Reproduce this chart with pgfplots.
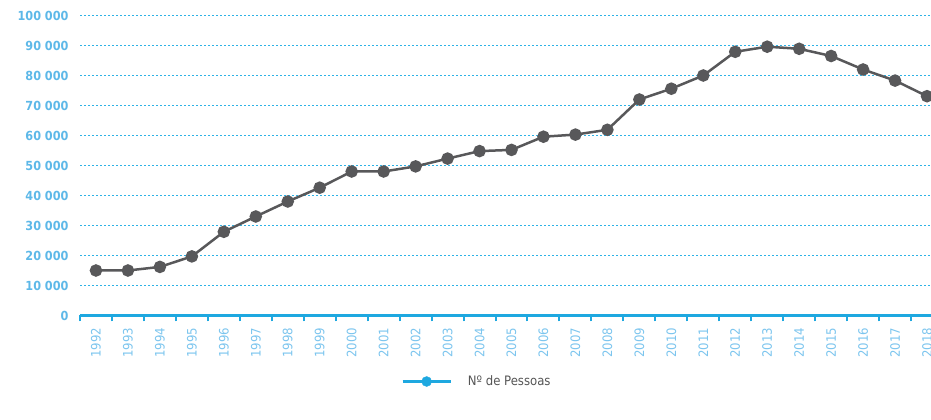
\documentclass[border=0pt]{standalone}
\usepackage{pgfplots}
\pgfplotsset{compat=1.18}
\usepackage{fontspec}
\setmainfont{DejaVu Sans Condensed}
\definecolor{gridblue}{HTML}{2DB2E6}
\definecolor{axisblue}{HTML}{1EA8E0}
\definecolor{ylblblue}{HTML}{5DB8E8}
\definecolor{lblblue}{HTML}{7CC5EE}
\definecolor{linegray}{HTML}{58585A}
\definecolor{txtgray}{HTML}{555555}
\pgfplotstableread{
x y
0 15000
1 15000
2 16200
3 19700
4 27900
5 33000
6 38000
7 42600
8 48000
9 48000
10 49700
11 52300
12 54800
13 55200
14 59600
15 60300
16 61900
17 72000
18 75600
19 80000
20 87900
21 89600
22 88900
23 86500
24 82000
25 78300
26 73100
}\datatable
\begin{document}
\begin{tikzpicture}
\begin{scope}
\clip (0pt,0pt) rectangle (931pt,420pt);
\begin{axis}[
  at={(80pt,104.5pt)}, anchor=south west,
  scale only axis, width=863pt, height=300pt,
  xmin=-0.5, xmax=26.5, ymin=0, ymax=100000,
  scaled y ticks=false,
  axis x line*=bottom, axis y line*=left,
  x axis line style={axisblue, line width=2.5pt},
  y axis line style={draw=none},
  ymajorgrids,
  major grid style={draw=gridblue, dash pattern=on 2pt off 2pt, line width=1pt},
  ytick={0,10000,...,100000},
  yticklabels={0,10 000,20 000,30 000,40 000,50 000,60 000,70 000,80 000,90 000,100 000},
  ytick style={draw=none},
  xtick={0,...,26},
  xticklabels={1992,1993,1994,1995,1996,1997,1998,1999,2000,2001,2002,2003,2004,2005,2006,2007,2008,2009,2010,2011,2012,2013,2014,2015,2016,2017,2018},
  major tick length=0pt,
  minor xtick={-0.5,0.5,...,26.5},
  minor tick length=6pt,
  tick align=outside,
  minor x tick style={axisblue, line width=2pt},
  major x tick style={draw=none},
  xticklabel style={rotate=90, anchor=east, font=\fontsize{13}{15}\selectfont, text=lblblue, xshift=-9pt},
  yticklabel style={font=\bfseries\fontsize{12.5}{15}\selectfont, text=ylblblue, xshift=-8pt},
  legend style={at={(0.46,-0.22)}, anchor=center, draw=none, fill=none,
    font=\fontsize{13}{15}\selectfont, text=txtgray,
    /tikz/every odd column/.style={column sep=14pt}},
  clip=false,
]
\addplot[linegray, line width=2.5pt, mark=*, mark size=5pt, forget plot] table[x=x,y=y] {\datatable};
\addlegendimage{legend image code/.code={
    \draw[axisblue, line width=2.5pt] (0pt,0pt) -- (48pt,0pt);
    \fill[axisblue] (24pt,0pt) circle (5pt);}}
\addlegendentry{Nº de Pessoas}
\end{axis}
\end{scope}
\pgfresetboundingbox
\useasboundingbox (0pt,0pt) rectangle (931pt,420pt);
\end{tikzpicture}
\end{document}
